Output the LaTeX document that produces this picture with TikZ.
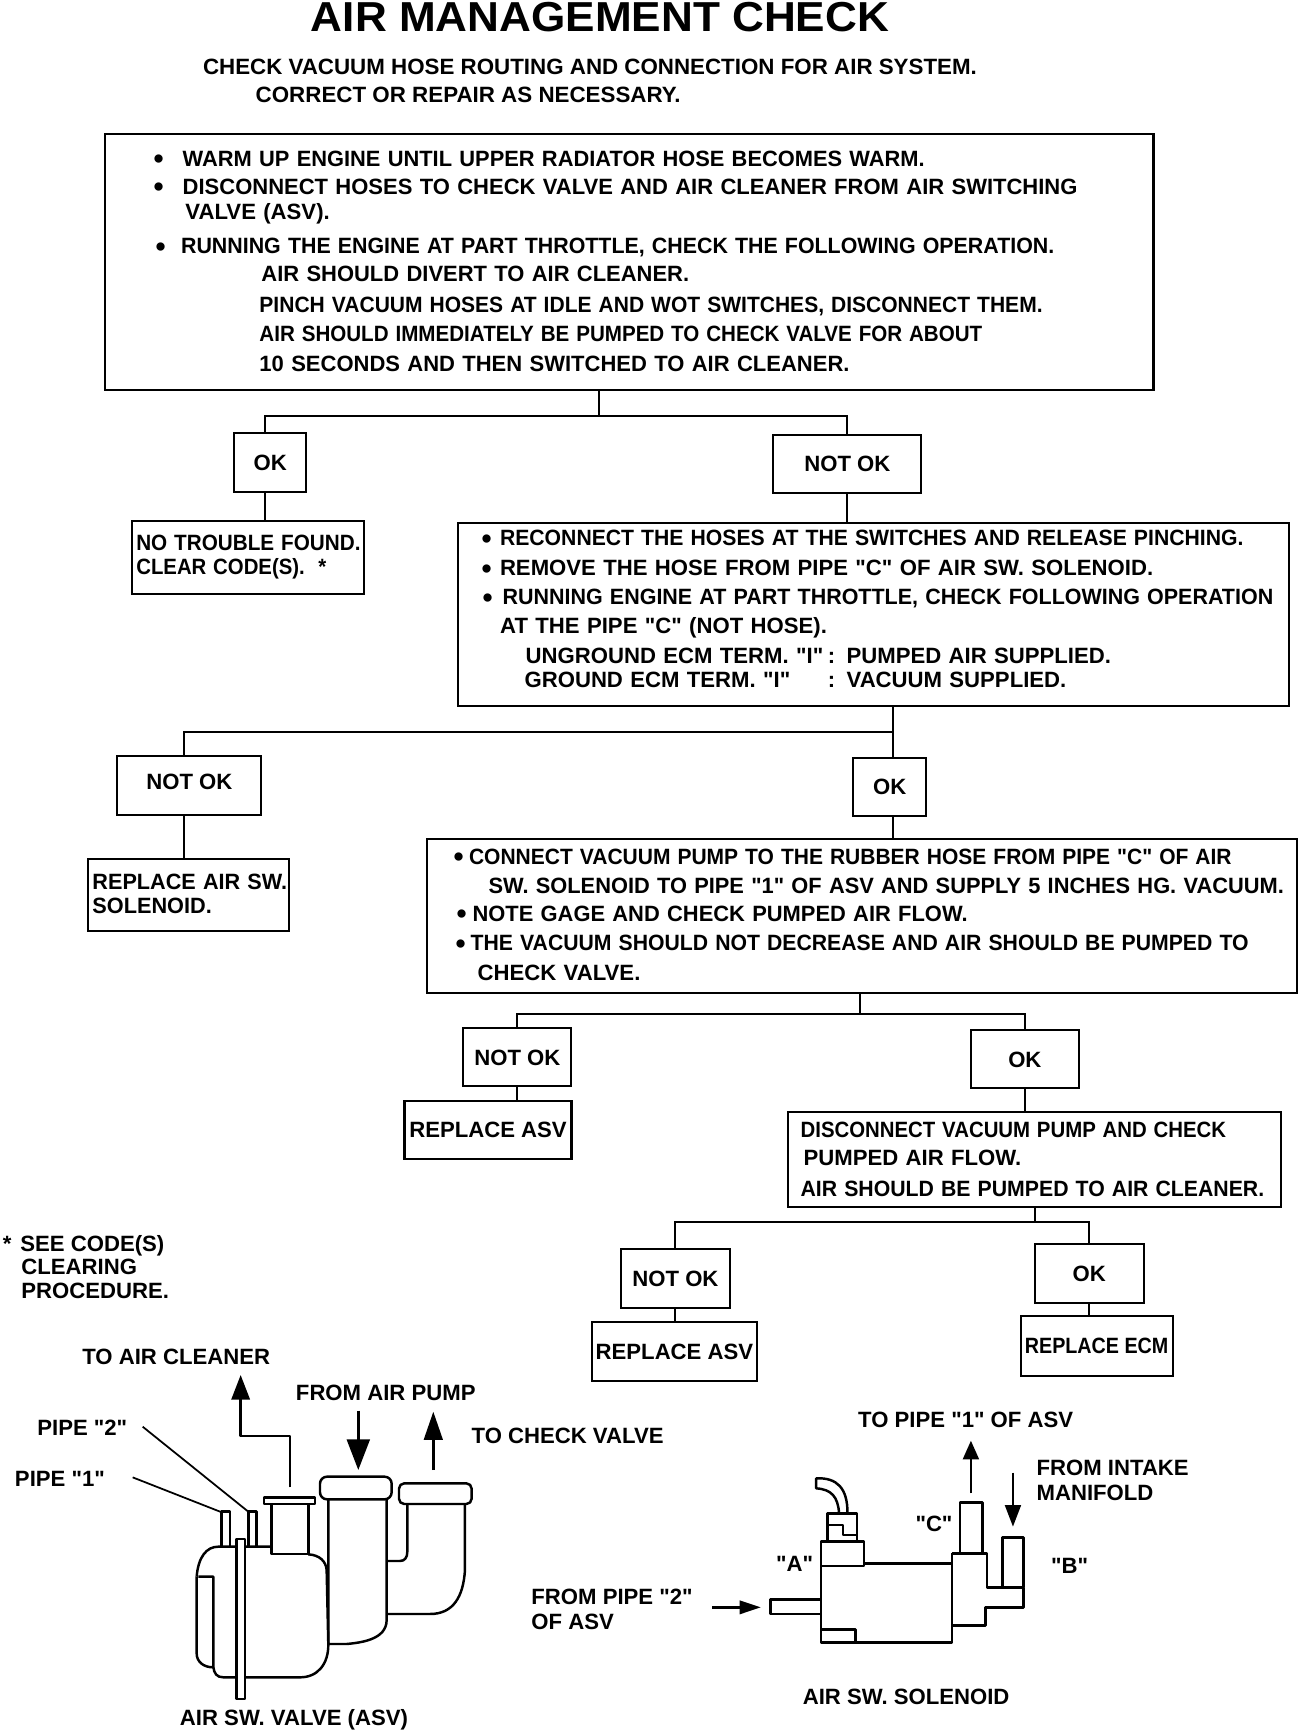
\documentclass[tikz,border=0pt]{standalone}
\usepackage{fontspec}
\defaultfontfeatures[\rmfamily]{}
\setmainfont{Liberation Sans}
\usetikzlibrary{arrows.meta}
\newcommand{\ind}[1]{\hspace*{#1pt}}
\newcommand{\bull}[2]{\hspace*{#1pt}\makebox[#2pt][l]{\raisebox{-.11em}{\scalebox{1.3}{\textbullet}}}}
\newcommand{\sx}[2]{\scalebox{#1}[1]{#2}}
\newcommand{\lift}[1]{\rule[-#1pt]{0pt}{#1pt}}
\tikzset{
  tag/.style={font=\bfseries\fontsize{12.6}{14.5}\selectfont,inner sep=0,outer sep=0},
  lead/.style={tag,anchor=west,align=left},
  box/.style={tag,draw,line width=1.2pt,align=left},
  small/.style={tag,draw,line width=1.2pt,align=center},
  wire/.style={line width=1.1pt},
  part/.style={line width=1.4pt,line join=round},
}
\begin{document}
\begin{tikzpicture}[x=.02cm,y=-.02cm]
\useasboundingbox (0,0) rectangle (1312,1732);
\node[tag,anchor=center,font=\bfseries\fontsize{25.1}{28}\selectfont] (title) at (600,17) {\scalebox{1}[.95]{AIR MANAGEMENT CHECK}};
\node[lead] (intro) at (203,81) {\sx{1.009}{CHECK VACUUM HOSE ROUTING AND CONNECTION FOR AIR SYSTEM.}\\[1.4pt]\ind{30}\sx{1.01}{CORRECT OR REPAIR AS NECESSARY.}};

% flow boxes
\begin{scope}[x=.01995cm,y=-.01998cm]
\node[box,text width=20.98cm,minimum height=5.13cm] (warmup) at (631,262.5) {%
\bull{27.9}{16.5}\sx{.987}{WARM UP ENGINE UNTIL UPPER RADIATOR HOSE BECOMES WARM.}\\[1.4pt]
\bull{27.9}{16.5}\sx{.994}{DISCONNECT HOSES TO CHECK VALVE AND AIR CLEANER FROM AIR SWITCHING}\\
\ind{46}VALVE (ASV).\\[4.8pt]
\bull{29}{14.5}\sx{.966}{RUNNING THE ENGINE AT PART THROTTLE, CHECK THE FOLLOWING OPERATION.}\\[1.4pt]
\ind{89.2}\sx{.992}{AIR SHOULD DIVERT TO AIR CLEANER.}\\[3.1pt]
\ind{88.1}\sx{.95}{PINCH VACUUM HOSES AT IDLE AND WOT SWITCHES, DISCONNECT THEM.}\\[2pt]
\ind{88.1}\sx{.93}{AIR SHOULD IMMEDIATELY BE PUMPED TO CHECK VALVE FOR ABOUT}\\[2.6pt]
\ind{88.1}\sx{.994}{10 SECONDS AND THEN SWITCHED TO AIR CLEANER.}\lift{1}};
\node[small,minimum width=1.44cm,minimum height=1.18cm] (okone) at (271,463.5) {OK};
\node[small,minimum width=2.96cm,minimum height=1.16cm] (notokone) at (850,465) {NOT OK};
\node[box,text width=4.64cm,minimum height=1.46cm] (notrouble) at (249,558.5) {\ind{2.3}\sx{.935}{NO TROUBLE FOUND.}\\[-.9pt]\ind{2.3}\sx{.92}{CLEAR CODE(S).\ \ *}\lift{3.2}};
\node[box,text width=16.63cm,minimum height=3.65cm] (pinch) at (876,615.5) {%
\bull{13.6}{10.5}\sx{.957}{RECONNECT THE HOSES AT THE SWITCHES AND RELEASE PINCHING.}\\[2.5pt]
\bull{13.6}{10.5}REMOVE THE HOSE FROM PIPE "C" OF AIR SW. SOLENOID.\\[2pt]
\bull{14.2}{11.4}\sx{.97}{RUNNING ENGINE AT PART THROTTLE, CHECK FOLLOWING OPERATION}\\[2pt]
\ind{24.2}AT THE PIPE "C" (NOT HOSE).\\[2.5pt]
\ind{38.7}\makebox[172pt][l]{UNGROUND ECM TERM. "I"}:\hspace{6.5pt}PUMPED AIR SUPPLIED.\\[-.9pt]
\ind{38.1}\makebox[172.6pt][l]{GROUND ECM TERM. "I"}:\hspace{6.5pt}VACUUM SUPPLIED.\lift{6.5}};
\node[small,minimum width=2.88cm,minimum height=1.18cm] (notoktwo) at (190,786.5) {NOT OK\lift{4}};
\node[small,minimum width=1.46cm,minimum height=1.16cm] (oktwo) at (892.5,788) {OK};
\node[box,text width=4.02cm,minimum height=1.44cm] (replsol) at (189.5,896) {\ind{2.3}\sx{.977}{REPLACE AIR SW.}\\[-.9pt]\ind{2.3}\sx{.98}{SOLENOID.}\lift{1.5}};
\node[box,text width=17.41cm,minimum height=3.09cm] (vacuum) at (864.5,917.5) {%
\bull{15.3}{8.8}\sx{.949}{CONNECT VACUUM PUMP TO THE RUBBER HOSE FROM PIPE "C" OF AIR}\\[2pt]
\ind{35.2}\sx{.986}{SW. SOLENOID TO PIPE "1" OF ASV AND SUPPLY 5 INCHES HG. VACUUM.}\\[1.4pt]
\bull{17}{9.1}\sx{.989}{NOTE GAGE AND CHECK PUMPED AIR FLOW.}\\[2.5pt]
\bull{16.5}{8.5}\sx{.958}{THE VACUUM SHOULD NOT DECREASE AND AIR SHOULD BE PUMPED TO}\\[2.5pt]
\ind{29}CHECK VALVE.\lift{1.5}};
\node[small,minimum width=2.16cm,minimum height=1.16cm] (notokthree) at (519,1059) {NOT OK};
\node[small,minimum width=2.16cm,minimum height=1.16cm] (okthree) at (1028,1061) {OK};
\node[small,minimum width=3.34cm,minimum height=1.16cm] (replasvone) at (489.5,1132) {REPLACE ASV};
\node[box,text width=9.87cm,minimum height=1.90cm] (flow) at (1037.5,1161.5) {%
\ind{7.4}\sx{.921}{DISCONNECT VACUUM PUMP AND CHECK}\\[1.4pt]
\ind{9.1}PUMPED AIR FLOW.\\[3.1pt]
\ind{7.4}\sx{.96}{AIR SHOULD BE PUMPED TO AIR CLEANER.}};
\node[small,minimum width=2.18cm,minimum height=1.18cm] (notokfour) at (677.5,1280.5) {NOT OK};
\node[small,minimum width=2.18cm,minimum height=1.18cm] (okfour) at (1092.5,1275.5) {OK};
\node[small,minimum width=3.30cm,minimum height=1.18cm] (replasvtwo) at (676.5,1353.5) {REPLACE ASV};
\node[small,minimum width=3.04cm,minimum height=1.20cm] (replecm) at (1100,1348) {\sx{.89}{REPLACE ECM}};

% connectors
\coordinate (splitone) at (601,417);
\coordinate (splittwo) at (896,733);
\coordinate (splitthree) at (863,1016);
\coordinate (splitfour) at (1038,1224);
\draw[wire] (warmup.south -| splitone)--(splitone);
\draw[wire] ([xshift=-3pt]okone.north)|-(splitone)-|(notokone.north);
\draw[wire] ([xshift=-3pt]okone.south)--([xshift=-3pt]okone.south |- notrouble.north);
\draw[wire] (notokone.south)--(notokone.south |- pinch.north);
\draw[wire] (pinch.south -| splittwo)--(splittwo |- oktwo.north);
\draw[wire] ([xshift=-3pt]notoktwo.north)|-(splittwo);
\draw[wire] ([xshift=-3pt]notoktwo.south)--([xshift=-3pt]notoktwo.south |- replsol.north);
\draw[wire] (splittwo |- oktwo.south)--(splittwo |- vacuum.north);
\draw[wire] (vacuum.south -| splitthree)--(splitthree);
\draw[wire] (notokthree.north)|-(splitthree)-|(okthree.north);
\draw[wire] (notokthree.south)--(notokthree.south |- replasvone.north);
\draw[wire] (okthree.south)--(okthree.south |- flow.north);
\draw[wire] (flow.south -| splitfour)--(splitfour);
\draw[wire] (notokfour.north)|-(splitfour)-|(okfour.north);
\draw[wire] (notokfour.south)--(notokfour.south |- replasvtwo.north);
\draw[wire] (okfour.south)--(okfour.south |- replecm.north);
\end{scope}

\node[lead] (seecode) at (3,1267) {*\ind{5}SEE CODE(S)\\[-.9pt]\ind{10.5}CLEARING\\[-.9pt]\ind{10.5}PROCEDURE.};

% air switching valve
\begin{scope}[shift={(0,1320)},x=.00667cm,y=-.00667cm]
\node[lead] (tocleaner) at (247,110) {TO AIR CLEANER};
\node[lead] (frompump) at (888,218) {FROM AIR PUMP};
\node[lead] (ptwo) at (112,322) {PIPE "2"};
\node[lead] (pone) at (45,478) {PIPE "1"};
\node[lead] (tocheck) at (1415,347) {TO CHECK VALVE};
\node[lead] (asv) at (540,1198) {AIR SW. VALVE (ASV)};
\draw[part] (590,770) .. controls (595,710) and (620,680) .. (655,680)--(812,680);
\draw[part] (590,770)--(590,1000) .. controls (590,1025) and (610,1042) .. (640,1042);
\draw[part] (595,770)--(640,770)--(640,1040) .. controls (642,1060) and (650,1072) .. (670,1072)--(900,1072) .. controls (955,1072) and (985,1030) .. (985,975);
\draw[part] (925,703) .. controls (960,705) and (978,725) .. (980,750)--(985,975);
\draw[part] (815,552)--(815,702)--(925,702)--(925,552);
\draw[part] (792,532) rectangle (945,552);
\draw[part] (665,678)--(665,575)--(690,575)--(690,678);
\draw[part] (745,680)--(745,575)--(770,575)--(770,680);
\draw[part,fill=white] (710,657) rectangle (735,1137);
\draw[part,rounded corners=4pt] (960,470) rectangle (1175,538);
\draw[part] (985,538)--(985,972)--(1040,972) .. controls (1080,968) and (1160,960) .. (1160,900)--(1160,540);
\draw[part,rounded corners=3pt] (1197,490) rectangle (1415,552);
\draw[part] (1222,552)--(1222,695) .. controls (1222,712) and (1215,723) .. (1200,723)--(1160,723);
\draw[part] (1395,552)--(1395,750) .. controls (1390,830) and (1360,882) .. (1290,882)--(1160,882);
\coordinate (cleanerout) at (870,502);
\coordinate (pumpfrom) at (1075,272);
\coordinate (pumpin) at (1075,450);
\coordinate (checkfrom) at (1300,450);
\coordinate (checkout) at (1300,275);
\coordinate (ptwotop) at (745,575);
\coordinate (ponetop) at (668,578);
\draw[part,-{Triangle[length=14pt,width=10.4pt]}] (cleanerout)--(870,348)--(722,348)--(722,165);
\draw[part,-{Triangle[length=17.4pt,width=13pt]}] (pumpfrom)--(pumpin);
\draw[part,-{Triangle[length=16pt,width=10.6pt]}] (checkfrom)--(checkout);
\draw[line width=1pt] (428,320)--(ptwotop);
\draw[line width=1pt] (398,472)--(ponetop);
\end{scope}

% air switching solenoid
\begin{scope}[shift={(520,1380)},x=.00765cm,y=-.00667cm]
\node[lead] (topipe) at (885,120) {TO PIPE "1" OF ASV};
\node[lead] (pipec) at (1035,432) {"C"};
\node[lead] (pipea) at (670,552) {"A"};
\node[lead] (pipeb) at (1390,558) {"B"};
\node[lead] (frompipe) at (30,688) {FROM PIPE "2"\\[-.5pt]OF ASV};
\node[lead] (intake) at (1352,301) {FROM INTAKE\\[-.5pt]MANIFOLD};
\node[lead] (solenoid) at (740,950) {AIR SW. SOLENOID};
\draw[part] (787,558)--(787,788)--(1130,788)--(1130,520);
\draw[part] (903,550)--(1128,550);
\draw[part] (787,558)--(787,485)--(900,485)--(900,558)--cycle;
\draw[part] (805,485)--(805,400)--(882,400)--(882,485);
\draw[part] (805,435)--(845,435)--(845,465)--(882,465);
\draw[part] (835,400) .. controls (832,350) and (815,328) .. (775,325)--(775,295) .. controls (830,292) and (857,325) .. (857,398);
\draw[part] (787,658)--(655,658)--(655,702)--(787,702);
\draw[part] (787,748)--(878,748)--(878,788);
\draw[part] (1130,520)--(1222,520)--(1222,622)--(1318,622)--(1318,682)--(1218,682)--(1218,737)--(1130,737);
\draw[part] (1152,518)--(1152,367)--(1210,367)--(1210,518);
\draw[part] (1263,620)--(1263,472)--(1318,472)--(1318,622);
\coordinate (twofrom) at (503,682);
\coordinate (twoin) at (630,682);
\coordinate (oneout) at (1180,182);
\coordinate (onefrom) at (1180,340);
\coordinate (intakefrom) at (1290,278);
\coordinate (intakein) at (1290,440);
\draw[part,-{Triangle[length=12pt,width=7.6pt]}] (twofrom)--(twoin);
\draw[part,-{Triangle[length=10.6pt,width=9pt]}] (onefrom)--(oneout);
\draw[part,-{Triangle[length=12.3pt,width=9pt]}] (intakefrom)--(intakein);
\end{scope}
\end{tikzpicture}
\end{document}
